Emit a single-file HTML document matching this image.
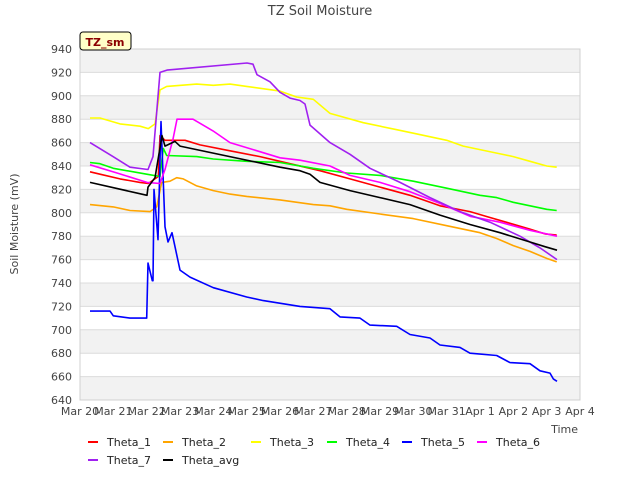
<!DOCTYPE html>
<html><head><meta charset="utf-8"><style>
body{margin:0;background:#fff;font-family:"Liberation Sans","DejaVu Sans",sans-serif}
svg text{font-family:"DejaVu Sans","Liberation Sans",sans-serif}
</style></head><body>
<svg id="chart" width="640" height="480" xmlns="http://www.w3.org/2000/svg">
<rect width="640" height="480" fill="#fff"/>
<text x="320" y="15" text-anchor="middle" font-size="13" fill="#444">TZ Soil Moisture</text>
<g id="grid"></g>
<g id="series"></g>
<g id="axes"></g>
<text transform="translate(18,224) rotate(-90)" text-anchor="middle" font-size="11" fill="#444">Soil Moisture (mV)</text>
<text x="578" y="433" text-anchor="end" font-size="11" fill="#444">Time</text>
<g>
<rect x="80" y="32" width="51" height="18" rx="3" fill="#ffffc8" stroke="#000" stroke-width="1"/>
<text x="105" y="46" text-anchor="middle" font-size="11" font-weight="bold" fill="#8b0000">TZ_sm</text>
</g>
<g id="legend"></g>
</svg>
<script>
const yTicks=[640,660,680,700,720,740,760,780,800,820,840,860,880,900,920,940];
const xTickLabels=["Mar 20","Mar 21","Mar 22","Mar 23","Mar 24","Mar 25","Mar 26","Mar 27","Mar 28","Mar 29","Mar 30","Mar 31","Apr 1","Apr 2","Apr 3","Apr 4"];
const seriesNames=["Theta_1","Theta_2","Theta_3","Theta_4","Theta_5","Theta_6","Theta_7","Theta_avg"];
const seriesColors=["#ff0000","#ffa500","#ffff00","#00ff00","#0000ff","#ff00ff","#a020f0","#000000"];
const theta1=[[0.3,835],[0.6,833],[1.2,829],[1.8,826],[2.05,825],[2.2,828],[2.35,831],[2.4,866],[2.55,862],[3.15,862],[3.6,858],[4.5,853],[5.4,848],[6.3,842],[7.2,836],[8.1,829],[9,822],[9.9,815],[10.8,806],[11.7,801],[12.3,796],[12.9,791],[13.5,786],[13.95,782],[14.3,781]];
const theta2=[[0.3,807],[1,805],[1.5,802],[2.1,801],[2.3,805],[2.45,826],[2.7,827],[2.9,830],[3.1,829],[3.5,823],[4,819],[4.5,816],[5,814],[6,811],[7,807],[7.5,806],[8,803],[9,799],[10,795],[11,789],[12,783],[12.5,778],[13,772],[13.5,767],[14,761],[14.3,758]];
const theta3=[[0.3,881],[0.6,881],[1.2,876],[1.8,874],[2.05,872],[2.25,876],[2.4,905],[2.6,908],[3.5,910],[4,909],[4.5,910],[5,908],[6,904],[6.5,899],[7,897],[7.5,885],[8.5,877],[9.5,871],[10,868],[11,862],[11.5,857],[12,854],[12.5,851],[13,848],[13.5,844],[14,840],[14.3,839]];
const theta4=[[0.3,843],[0.6,842],[1,838],[2,833],[2.4,831],[2.5,855],[2.6,849],[3.5,848],[4,846],[5,844],[6,843],[7,838],[8,834],[9,832],[10,827],[11,821],[12,815],[12.5,813],[13,809],[13.5,806],[14,803],[14.3,802]];
const theta5=[[0.3,716],[0.9,716],[1.0,712],[1.5,710],[2.0,710],[2.04,757],[2.17,742],[2.19,742],[2.22,820],[2.34,777],[2.43,878],[2.55,788],[2.64,775],[2.76,783],[2.85,771],[3.0,751],[3.3,745],[4.0,736],[5.0,728],[5.5,725],[6.6,720],[7.5,718],[7.8,711],[8.4,710],[8.7,704],[9.5,703],[9.9,696],[10.5,693],[10.8,687],[11.4,685],[11.7,680],[12.5,678],[12.9,672],[13.5,671],[13.8,665],[14.1,663],[14.2,658],[14.31,656]];
const theta6=[[0.3,841],[1.11,834],[2.01,826],[2.4,825],[2.55,837],[2.79,863],[2.91,880],[3.39,880],[3.99,870],[4.5,860],[6,847],[6.6,845],[7.5,840],[8.1,832],[9,826],[9.9,818],[10.8,808],[11.7,797],[12.6,792],[13.5,785],[14.31,780]];
const theta7=[[0.3,860],[0.99,848],[1.5,839],[2.04,837],[2.19,848],[2.4,920],[2.61,922],[5.01,928],[5.19,927],[5.31,918],[5.7,912],[6,903],[6.3,898],[6.6,896],[6.75,893],[6.9,875],[7.5,860],[8.1,850],[8.7,838],[9.6,826],[10.5,813],[11.4,801],[12.3,792],[13.2,780],[13.8,770],[14.31,760]];
const thetaAvg=[[0.3,826],[2.01,815],[2.04,822],[2.25,830],[2.46,866],[2.55,857],[2.85,861],[3.0,857],[6,839],[6.6,836],[6.9,833],[7.2,826],[8.1,819],[9,813],[9.9,807],[10.8,798],[11.7,790],[12.6,783],[13.5,775],[13.95,771],[14.31,768]];
const allSeries=[theta1,theta2,theta3,theta4,theta5,theta6,theta7,thetaAvg];
const X0=80,X1=580,Y0=400,Y1=49,DMIN=0,DMAX=15,VMIN=640,VMAX=940;
const xs=d=>X0+(d-DMIN)/(DMAX-DMIN)*(X1-X0);
const ys=v=>Y0-(v-VMIN)/(VMAX-VMIN)*(Y0-Y1);
const NS="http://www.w3.org/2000/svg";
function mk(t,a,p){const e=document.createElementNS(NS,t);for(const k in a)e.setAttribute(k,a[k]);p.appendChild(e);return e;}
const grid=document.getElementById('grid'),axes=document.getElementById('axes'),ser=document.getElementById('series'),leg=document.getElementById('legend');
for(let i=0;i<yTicks.length-1;i++){if(i%2===0){const r=mk('rect',{x:X0,y:ys(yTicks[i+1]),width:X1-X0,height:ys(yTicks[i])-ys(yTicks[i+1]),fill:'#f2f2f2'},grid);

}}
yTicks.forEach(v=>{const l=mk('line',{x1:X0,x2:X1,y1:ys(v),y2:ys(v),stroke:'#dcdcdc','stroke-width':1},grid);


const t=mk('text',{x:X0-8,y:ys(v)+4,'text-anchor':'end','font-size':11,fill:'#444'},axes);t.textContent=v;

});
mk('rect',{x:X0,y:Y1,width:X1-X0,height:Y0-Y1,fill:'none',stroke:'#d0d0d0'},axes);
xTickLabels.forEach((s,i)=>{const t=mk('text',{x:xs(i),y:Y0+15,'text-anchor':'middle','font-size':11,fill:'#444'},axes);t.textContent=s;

});
allSeries.forEach((d,i)=>{const p=mk('polyline',{points:d.map(q=>xs(q[0]).toFixed(1)+','+ys(q[1]).toFixed(1)).join(' '),fill:'none',stroke:seriesColors[i],'stroke-width':1.6,'stroke-linejoin':'round'},ser);

});
const lx=[88,163,251,327,402,477,88,163],ly=[442,442,442,442,442,442,460,460];
seriesNames.forEach((n,i)=>{const g=mk('g',{},leg);


mk('line',{x1:lx[i],x2:lx[i]+10,y1:ly[i],y2:ly[i],stroke:seriesColors[i],'stroke-width':2},g);
const t=mk('text',{x:lx[i]+19,y:ly[i]+4,'font-size':11,fill:'#222'},g);t.textContent=n;});
</script>
</body></html>
